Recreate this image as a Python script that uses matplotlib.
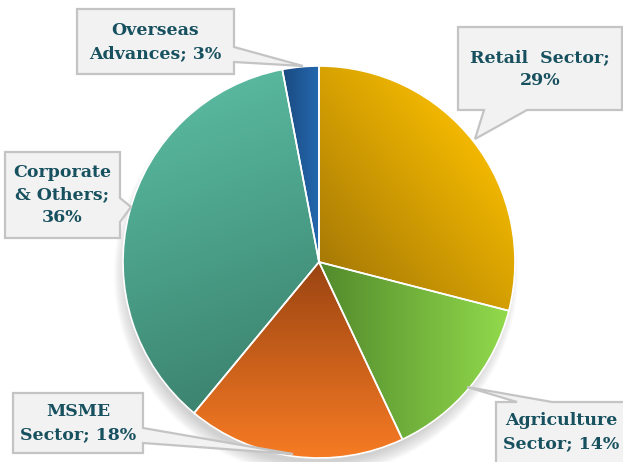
import numpy as np
import matplotlib.pyplot as plt
from matplotlib.patches import Polygon, Circle
from matplotlib.colors import to_rgb

# Advances by sector (%)
sectors = ['Retail  Sector', 'Agriculture\nSector', 'MSME\nSector',
           'Corporate\n& Others', 'Overseas\nAdvances']
shares = [29, 14, 18, 36, 3]
breaks = ['\n', ' ', ' ', '\n', ' ']

# gradient (start colour, end colour, direction in degrees) per slice
grads = [('#a87a06', '#f2b800', 40),
         ('#528a2c', '#92da4c', 0),
         ('#9a4412', '#f87c24', -90),
         ('#58b89e', '#3c8470', -70),
         ('#1a4a80', '#2468ae', 0)]

W, H = 623, 462
cx, cy, R = 319, H - 262, 196

fig = plt.figure(figsize=(W / 100, H / 100), dpi=100)
ax = fig.add_axes([0, 0, 1, 1])

# soft shadow under the pie
for k in range(14):
    ax.add_patch(Circle((cx - 3, cy - 12), R + 6 - k, color='#909090',
                        alpha=0.03, lw=0, zorder=1))
ax.add_patch(Circle((cx, cy), R, color='white', lw=0, zorder=1.5))

wedges, _ = ax.pie(shares, startangle=90, counterclock=False, radius=R,
                   center=(cx, cy), frame=True,
                   wedgeprops=dict(edgecolor='white', linewidth=1.2))

x0, x1, y0, y1 = cx - R, cx + R, cy - R, cy + R
xs = np.linspace(x0, x1, 400)
ys = np.linspace(y0, y1, 400)
X, Y = np.meshgrid(xs, ys)
for w, (c0, c1, ang) in zip(wedges, grads):
    d = np.array([np.cos(np.radians(ang)), np.sin(np.radians(ang))])
    verts = w.get_path().vertices
    proj_v = verts @ d
    proj = X * d[0] + Y * d[1]
    t = np.clip((proj - proj_v.min()) / (proj_v.max() - proj_v.min()), 0, 1)
    a, b = np.array(to_rgb(c0)), np.array(to_rgb(c1))
    img = a + (b - a) * t[..., None]
    im = ax.imshow(img, extent=(x0, x1, y0, y1), origin='lower', zorder=2,
                   interpolation='bilinear')
    im.set_clip_path(w)
    w.set_facecolor('none')
    w.set_zorder(3)

# callout boxes in pixel coordinates (x, y from top)
callouts = [
    [(458, 27), (622, 27), (622, 110), (527, 110), (475, 139), (484, 110), (458, 110)],
    [(496, 402), (517, 402), (467, 387), (552, 402), (640, 402), (640, 480), (496, 480)],
    [(13, 393), (143, 393), (143, 428), (293, 454), (143, 443), (143, 453), (13, 453)],
    [(5, 152), (120, 152), (120, 198), (131, 207), (120, 222), (120, 238), (5, 238)],
    [(77, 9), (234, 9), (234, 47), (303, 66), (234, 62), (234, 74), (77, 74)],
]
text_pos = [(540, 69), (561, 432), (78, 423), (62, 195), (155, 42)]

for name, v, sep, poly, (tx, ty) in zip(sectors, shares, breaks, callouts, text_pos):
    pts = [(x, H - y) for x, y in poly]
    ax.add_patch(Polygon(pts, closed=True, facecolor='#f2f2f2',
                         edgecolor='#c4c4c4', lw=1.6, zorder=4, clip_on=False))
    ax.text(tx, H - ty, f'{name};{sep}{v}%', ha='center', va='center',
            family='DejaVu Serif', fontweight='bold', fontsize=12.5,
            color='#17505e', linespacing=1.42, zorder=5)

ax.set_xlim(0, W)
ax.set_ylim(0, H)
ax.set_aspect('equal')
ax.axis('off')
fig.savefig('out.png', dpi=100)
